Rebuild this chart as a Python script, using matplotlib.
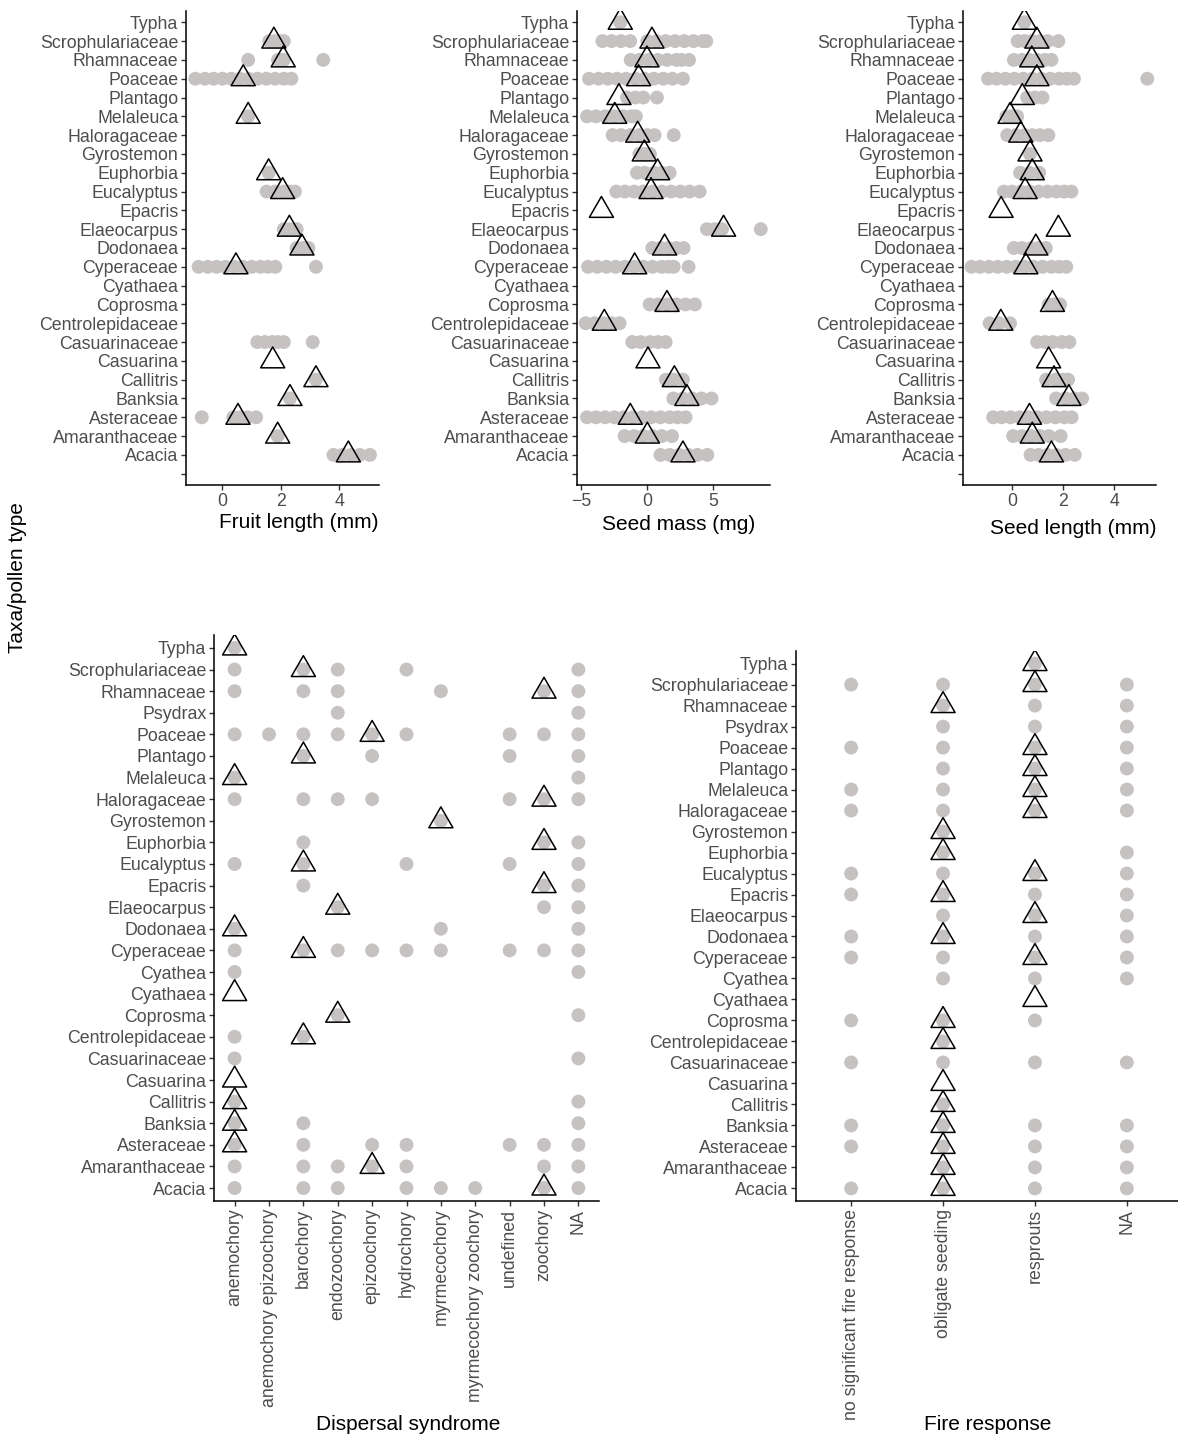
import matplotlib
matplotlib.use("Agg")
import matplotlib.pyplot as plt
from matplotlib.path import Path

plt.rcParams['font.family'] = ['Liberation Sans', 'DejaVu Sans']

# ---- data ----------------------------------------------------------------
# taxa for the three trait panels (bottom to top, first slot is the empty NA row)
trait_taxa = ['', 'Acacia', 'Amaranthaceae', 'Asteraceae', 'Banksia', 'Callitris',
              'Casuarina', 'Casuarinaceae', 'Centrolepidaceae', 'Coprosma', 'Cyathaea',
              'Cyperaceae', 'Dodonaea', 'Elaeocarpus', 'Epacris', 'Eucalyptus',
              'Euphorbia', 'Gyrostemon', 'Haloragaceae', 'Melaleuca', 'Plantago',
              'Poaceae', 'Rhamnaceae', 'Scrophulariaceae', 'Typha']

# species values (grey dots) and pollen-type means (triangles)
fruit_pts = {
    'Scrophulariaceae': [1.6, 1.8, 1.95, 2.1],
    'Rhamnaceae': [0.88, 1.9, 2.0, 2.1, 3.45],
    'Poaceae': [-0.93, -0.6, -0.3, 0.0, 0.3, 0.6, 0.9, 1.2, 1.5, 1.8, 2.1, 2.36],
    'Melaleuca': [0.88],
    'Euphorbia': [1.58],
    'Eucalyptus': [1.51, 1.8, 2.1, 2.3, 2.48],
    'Elaeocarpus': [2.1, 2.3, 2.54],
    'Dodonaea': [2.54, 2.75, 2.94],
    'Cyperaceae': [-0.82, -0.5, -0.2, 0.1, 0.4, 0.7, 1.0, 1.3, 1.55, 1.81, 3.2],
    'Casuarinaceae': [1.19, 1.45, 1.7, 1.9, 2.1, 3.09],
    'Callitris': [3.2],
    'Banksia': [2.31],
    'Asteraceae': [-0.71, 0.37, 0.6, 0.85, 1.15],
    'Amaranthaceae': [1.89],
    'Acacia': [3.8, 4.1, 4.4, 4.7, 5.05],
}
fruit_mean = {
    'Scrophulariaceae': 1.76, 'Rhamnaceae': 2.08, 'Poaceae': 0.71, 'Melaleuca': 0.88,
    'Euphorbia': 1.58, 'Eucalyptus': 2.06, 'Elaeocarpus': 2.29, 'Dodonaea': 2.72,
    'Cyperaceae': 0.46, 'Casuarina': 1.72, 'Callitris': 3.2, 'Banksia': 2.31,
    'Asteraceae': 0.53, 'Amaranthaceae': 1.89, 'Acacia': 4.31,
}

mass_pts = {
    'Typha': [-2.05],
    'Scrophulariaceae': [-3.4, -2.7, -2.0, -1.3, 0.0, 0.7, 1.4, 2.1, 2.8, 3.5, 4.2, 4.47],
    'Rhamnaceae': [-1.26, -0.6, 0.1, 0.8, 1.5, 2.2, 2.6, 3.16],
    'Poaceae': [-4.42, -3.7, -3.0, -2.3, -1.6, -0.9, -0.2, 0.5, 1.2, 1.9, 2.7],
    'Plantago': [-1.54, -0.9, -0.3, 0.73],
    'Melaleuca': [-4.57, -3.9, -3.2, -2.5, -1.8, -1.2, -0.86],
    'Haloragaceae': [-2.63, -2.0, -1.3, -0.6, 0.0, 0.55, 2.0],
    'Gyrostemon': [-0.6, -0.2, 0.2],
    'Euphorbia': [-0.78, -0.2, 0.5, 1.1, 1.69],
    'Eucalyptus': [-2.35, -1.7, -1.0, -0.3, 0.4, 1.1, 1.8, 2.5, 3.2, 3.96],
    'Elaeocarpus': [4.52, 5.1, 5.66, 8.6],
    'Dodonaea': [0.38, 1.0, 1.6, 2.2, 2.75],
    'Cyperaceae': [-4.49, -3.8, -3.1, -2.4, -1.7, -1.0, -0.3, 0.4, 1.1, 1.6, 2.0, 3.13],
    'Coprosma': [0.18, 0.8, 1.5, 2.2, 2.9, 3.61],
    'Centrolepidaceae': [-4.67, -4.0, -3.3, -2.7, -2.1],
    'Casuarinaceae': [-1.14, -0.5, 0.2, 0.8, 1.39],
    'Callitris': [1.41, 2.0, 2.7],
    'Banksia': [1.97, 2.7, 3.4, 4.1, 4.87],
    'Asteraceae': [-4.57, -3.9, -3.2, -2.5, -1.8, -1.1, -0.4, 0.3, 1.0, 1.7, 2.3, 2.9],
    'Amaranthaceae': [-1.72, -1.0, -0.3, 0.4, 1.1, 1.87],
    'Acacia': [1.0, 1.7, 2.4, 3.1, 3.8, 4.55],
}
mass_mean = {
    'Typha': -2.05, 'Scrophulariaceae': 0.35, 'Rhamnaceae': -0.03, 'Poaceae': -0.66,
    'Plantago': -2.15, 'Melaleuca': -2.47, 'Haloragaceae': -0.73, 'Gyrostemon': -0.23,
    'Euphorbia': 0.78, 'Eucalyptus': 0.28, 'Epacris': -3.48, 'Elaeocarpus': 5.78,
    'Dodonaea': 1.31, 'Cyperaceae': -0.96, 'Coprosma': 1.49, 'Centrolepidaceae': -3.26,
    'Casuarina': 0.05, 'Callitris': 2.05, 'Banksia': 3.0, 'Asteraceae': -1.29,
    'Amaranthaceae': 0.0, 'Acacia': 2.7,
}

slen_pts = {
    'Typha': [0.49],
    'Scrophulariaceae': [0.23, 0.5, 0.8, 1.1, 1.4, 1.82],
    'Rhamnaceae': [0.08, 0.4, 0.7, 1.0, 1.3, 1.55],
    'Poaceae': [-0.93, -0.6, -0.25, 0.1, 0.45, 0.8, 1.15, 1.5, 1.85, 2.15, 2.43, 5.3],
    'Plantago': [0.6, 0.9, 1.2],
    'Melaleuca': [-0.21, 0.0, 0.21],
    'Haloragaceae': [-0.18, 0.15, 0.5, 0.8, 1.1, 1.43],
    'Gyrostemon': [0.71],
    'Euphorbia': [0.32, 0.7, 1.07],
    'Eucalyptus': [-0.31, 0.0, 0.35, 0.7, 1.05, 1.4, 1.75, 2.05, 2.33],
    'Dodonaea': [0.08, 0.4, 0.75, 1.05, 1.33],
    'Cyperaceae': [-1.58, -1.25, -0.9, -0.55, -0.2, 0.15, 0.5, 0.85, 1.2, 1.55, 1.85, 2.13],
    'Coprosma': [1.44, 1.65, 1.89],
    'Centrolepidaceae': [-0.87, -0.5, -0.07],
    'Casuarinaceae': [0.99, 1.3, 1.6, 1.95, 2.25],
    'Callitris': [1.34, 1.7, 2.0, 2.2],
    'Banksia': [1.73, 2.1, 2.45, 2.75],
    'Asteraceae': [-0.73, -0.4, -0.05, 0.3, 0.65, 1.0, 1.35, 1.7, 2.05, 2.34],
    'Amaranthaceae': [0.05, 0.4, 0.75, 1.1, 1.45, 1.91],
    'Acacia': [0.73, 1.05, 1.4, 1.75, 2.1, 2.46],
}
slen_mean = {
    'Typha': 0.49, 'Scrophulariaceae': 0.98, 'Rhamnaceae': 0.78, 'Poaceae': 0.98,
    'Plantago': 0.41, 'Melaleuca': -0.07, 'Haloragaceae': 0.35, 'Gyrostemon': 0.71,
    'Euphorbia': 0.8, 'Eucalyptus': 0.52, 'Epacris': -0.42, 'Elaeocarpus': 1.82,
    'Dodonaea': 0.94, 'Cyperaceae': 0.55, 'Coprosma': 1.59, 'Centrolepidaceae': -0.43,
    'Casuarina': 1.44, 'Callitris': 1.65, 'Banksia': 2.23, 'Asteraceae': 0.69,
    'Amaranthaceae': 0.8, 'Acacia': 1.55,
}

# taxa for the two categorical panels (bottom to top)
cat_taxa = ['Acacia', 'Amaranthaceae', 'Asteraceae', 'Banksia', 'Callitris', 'Casuarina',
            'Casuarinaceae', 'Centrolepidaceae', 'Coprosma', 'Cyathaea', 'Cyathea',
            'Cyperaceae', 'Dodonaea', 'Elaeocarpus', 'Epacris', 'Eucalyptus', 'Euphorbia',
            'Gyrostemon', 'Haloragaceae', 'Melaleuca', 'Plantago', 'Poaceae', 'Psydrax',
            'Rhamnaceae', 'Scrophulariaceae', 'Typha']

disp_cats = ['anemochory', 'anemochory epizoochory', 'barochory', 'endozoochory',
             'epizoochory', 'hydrochory', 'myrmecochory', 'myrmecochory zoochory',
             'undefined', 'zoochory', 'NA']
disp_pts = {
    'Typha': ['anemochory'],
    'Scrophulariaceae': ['anemochory', 'barochory', 'endozoochory', 'hydrochory', 'NA'],
    'Rhamnaceae': ['anemochory', 'barochory', 'endozoochory', 'myrmecochory', 'zoochory', 'NA'],
    'Psydrax': ['endozoochory', 'NA'],
    'Poaceae': ['anemochory', 'anemochory epizoochory', 'barochory', 'endozoochory',
                'epizoochory', 'hydrochory', 'undefined', 'zoochory', 'NA'],
    'Plantago': ['barochory', 'epizoochory', 'undefined', 'NA'],
    'Melaleuca': ['anemochory', 'NA'],
    'Haloragaceae': ['anemochory', 'barochory', 'endozoochory', 'epizoochory', 'undefined',
                     'zoochory', 'NA'],
    'Gyrostemon': ['myrmecochory'],
    'Euphorbia': ['barochory', 'zoochory', 'NA'],
    'Eucalyptus': ['anemochory', 'barochory', 'hydrochory', 'undefined', 'NA'],
    'Epacris': ['barochory', 'zoochory', 'NA'],
    'Elaeocarpus': ['endozoochory', 'zoochory', 'NA'],
    'Dodonaea': ['anemochory', 'myrmecochory', 'NA'],
    'Cyperaceae': ['anemochory', 'barochory', 'endozoochory', 'epizoochory', 'hydrochory',
                   'myrmecochory', 'undefined', 'zoochory', 'NA'],
    'Cyathea': ['anemochory', 'NA'],
    'Coprosma': ['endozoochory', 'NA'],
    'Centrolepidaceae': ['anemochory', 'barochory'],
    'Casuarinaceae': ['anemochory', 'NA'],
    'Callitris': ['anemochory', 'NA'],
    'Banksia': ['anemochory', 'barochory', 'NA'],
    'Asteraceae': ['anemochory', 'barochory', 'epizoochory', 'hydrochory', 'undefined',
                   'zoochory', 'NA'],
    'Amaranthaceae': ['anemochory', 'barochory', 'endozoochory', 'epizoochory', 'hydrochory',
                      'zoochory', 'NA'],
    'Acacia': ['anemochory', 'barochory', 'endozoochory', 'hydrochory', 'myrmecochory',
               'myrmecochory zoochory', 'zoochory', 'NA'],
}
disp_pollen = {
    'Typha': 'anemochory', 'Scrophulariaceae': 'barochory', 'Rhamnaceae': 'zoochory',
    'Poaceae': 'epizoochory', 'Plantago': 'barochory', 'Melaleuca': 'anemochory',
    'Haloragaceae': 'zoochory', 'Gyrostemon': 'myrmecochory', 'Euphorbia': 'zoochory',
    'Eucalyptus': 'barochory', 'Epacris': 'zoochory', 'Elaeocarpus': 'endozoochory',
    'Dodonaea': 'anemochory', 'Cyperaceae': 'barochory', 'Cyathaea': 'anemochory',
    'Coprosma': 'endozoochory', 'Centrolepidaceae': 'barochory', 'Casuarina': 'anemochory',
    'Callitris': 'anemochory', 'Banksia': 'anemochory', 'Asteraceae': 'anemochory',
    'Amaranthaceae': 'epizoochory', 'Acacia': 'zoochory',
}

fire_cats = ['no significant fire response', 'obligate seeding', 'resprouts', 'NA']
fire_pts = {
    'Typha': ['resprouts'],
    'Scrophulariaceae': ['no significant fire response', 'obligate seeding', 'resprouts', 'NA'],
    'Rhamnaceae': ['obligate seeding', 'resprouts', 'NA'],
    'Psydrax': ['obligate seeding', 'resprouts', 'NA'],
    'Poaceae': ['no significant fire response', 'obligate seeding', 'resprouts', 'NA'],
    'Plantago': ['obligate seeding', 'resprouts', 'NA'],
    'Melaleuca': ['no significant fire response', 'obligate seeding', 'resprouts', 'NA'],
    'Haloragaceae': ['no significant fire response', 'obligate seeding', 'resprouts', 'NA'],
    'Gyrostemon': ['obligate seeding'],
    'Euphorbia': ['obligate seeding', 'NA'],
    'Eucalyptus': ['no significant fire response', 'obligate seeding', 'resprouts', 'NA'],
    'Epacris': ['no significant fire response', 'obligate seeding', 'resprouts', 'NA'],
    'Elaeocarpus': ['obligate seeding', 'resprouts', 'NA'],
    'Dodonaea': ['no significant fire response', 'obligate seeding', 'resprouts', 'NA'],
    'Cyperaceae': ['no significant fire response', 'obligate seeding', 'resprouts', 'NA'],
    'Cyathea': ['obligate seeding', 'resprouts', 'NA'],
    'Coprosma': ['no significant fire response', 'obligate seeding', 'resprouts'],
    'Centrolepidaceae': ['obligate seeding'],
    'Casuarinaceae': ['no significant fire response', 'obligate seeding', 'resprouts', 'NA'],
    'Callitris': ['obligate seeding'],
    'Banksia': ['no significant fire response', 'obligate seeding', 'resprouts', 'NA'],
    'Asteraceae': ['no significant fire response', 'obligate seeding', 'resprouts', 'NA'],
    'Amaranthaceae': ['obligate seeding', 'resprouts', 'NA'],
    'Acacia': ['no significant fire response', 'obligate seeding', 'resprouts', 'NA'],
}
fire_pollen = {
    'Typha': 'resprouts', 'Scrophulariaceae': 'resprouts', 'Rhamnaceae': 'obligate seeding',
    'Poaceae': 'resprouts', 'Plantago': 'resprouts', 'Melaleuca': 'resprouts',
    'Haloragaceae': 'resprouts', 'Gyrostemon': 'obligate seeding',
    'Euphorbia': 'obligate seeding', 'Eucalyptus': 'resprouts', 'Epacris': 'obligate seeding',
    'Elaeocarpus': 'resprouts', 'Dodonaea': 'obligate seeding', 'Cyperaceae': 'resprouts',
    'Cyathaea': 'resprouts', 'Coprosma': 'obligate seeding',
    'Centrolepidaceae': 'obligate seeding', 'Casuarina': 'obligate seeding',
    'Callitris': 'obligate seeding', 'Banksia': 'obligate seeding',
    'Asteraceae': 'obligate seeding', 'Amaranthaceae': 'obligate seeding',
    'Acacia': 'obligate seeding',
}

# ---- style ---------------------------------------------------------------
W, H = 1178, 1438
GREY = '#c6c2c2'
# equilateral triangle with centroid at 0 (closed path)
TRI = Path([(0, 0.577), (-0.5, -0.289), (0.5, -0.289), (0, 0.577)], closed=True)
DOT_S = 100
TRI_S = 400

fig = plt.figure(figsize=(W / 100, H / 100), dpi=100)


def box(x0, y0, x1, y1):
    return [x0 / W, 1 - y1 / H, (x1 - x0) / W, (y1 - y0) / H]


def style(ax):
    for s in ['top', 'right']:
        ax.spines[s].set_visible(False)
    for s in ['left', 'bottom']:
        ax.spines[s].set_linewidth(1.1)
        ax.spines[s].set_color('black')
    ax.tick_params(labelsize=12.8, labelcolor='#4d4d4d', color='#333333',
                   length=3.5, width=1, pad=2)


def trait_panel(rect, pts, means, xlim, xticks, label, label_xy):
    ax = fig.add_axes(box(*rect))
    style(ax)
    pos = {t: i for i, t in enumerate(trait_taxa)}
    for t, vals in pts.items():
        ax.scatter(vals, [pos[t]] * len(vals), s=DOT_S, color=GREY,
                   edgecolors='none', zorder=2)
    ax.scatter(list(means.values()), [pos[t] for t in means], s=TRI_S, marker=TRI,
               facecolors='none', edgecolors='black', linewidths=1.1, zorder=3)
    ax.set_yticks(range(len(trait_taxa)))
    ax.set_yticklabels(trait_taxa)
    ax.set_ylim(-0.6, len(trait_taxa) - 0.4)
    ax.set_xlim(*xlim)
    ax.set_xticks(xticks)
    ax.set_xlabel(label, fontsize=15, color='black', va='center')
    ax.xaxis.set_label_coords(label_xy[0] / W, 1 - label_xy[1] / H,
                              transform=fig.transFigure)
    return ax


def cat_panel(rect, cats, pts, pollen, label, label_xy):
    ax = fig.add_axes(box(*rect))
    style(ax)
    ypos = {t: i for i, t in enumerate(cat_taxa)}
    xpos = {c: i for i, c in enumerate(cats)}
    for t, cs in pts.items():
        ax.scatter([xpos[c] for c in cs], [ypos[t]] * len(cs), s=DOT_S, color=GREY,
                   edgecolors='none', zorder=2)
    ax.scatter([xpos[c] for c in pollen.values()], [ypos[t] for t in pollen], s=TRI_S,
               marker=TRI, facecolors='none', edgecolors='black', linewidths=1.1, zorder=3)
    ax.set_yticks(range(len(cat_taxa)))
    ax.set_yticklabels(cat_taxa)
    ax.set_ylim(-0.6, len(cat_taxa) - 0.4)
    ax.set_xticks(range(len(cats)))
    ax.set_xticklabels(cats, rotation=90)
    ax.set_xlim(-0.6, len(cats) - 0.4)
    ax.set_xlabel(label, fontsize=15, color='black', va='center')
    ax.xaxis.set_label_coords(label_xy[0] / W, 1 - label_xy[1] / H,
                              transform=fig.transFigure)
    return ax


trait_panel((186, 11, 379, 485), fruit_pts, fruit_mean, (-1.25, 5.36), [0, 2, 4],
            'Fruit length (mm)', (299, 523))
trait_panel((577, 11, 770, 485), mass_pts, mass_mean, (-5.33, 9.3), [-5, 0, 5],
            'Seed mass (mg)', (679, 525))
trait_panel((963, 11, 1156, 485), slen_pts, slen_mean, (-1.91, 5.64), [0, 2, 4],
            'Seed length (mm)', (1073, 528))

cat_panel((214, 635, 599, 1201), disp_cats, disp_pts, disp_pollen,
          'Dispersal syndrome', (408, 1424))
cat_panel((796, 651, 1182, 1201), fire_cats, fire_pts, fire_pollen,
          'Fire response', (988, 1424))

fig.text(18 / W, 1 - 578 / H, 'Taxa/pollen type', rotation=90, ha='center',
         va='center', fontsize=15)

fig.savefig('out.png', dpi=100)
